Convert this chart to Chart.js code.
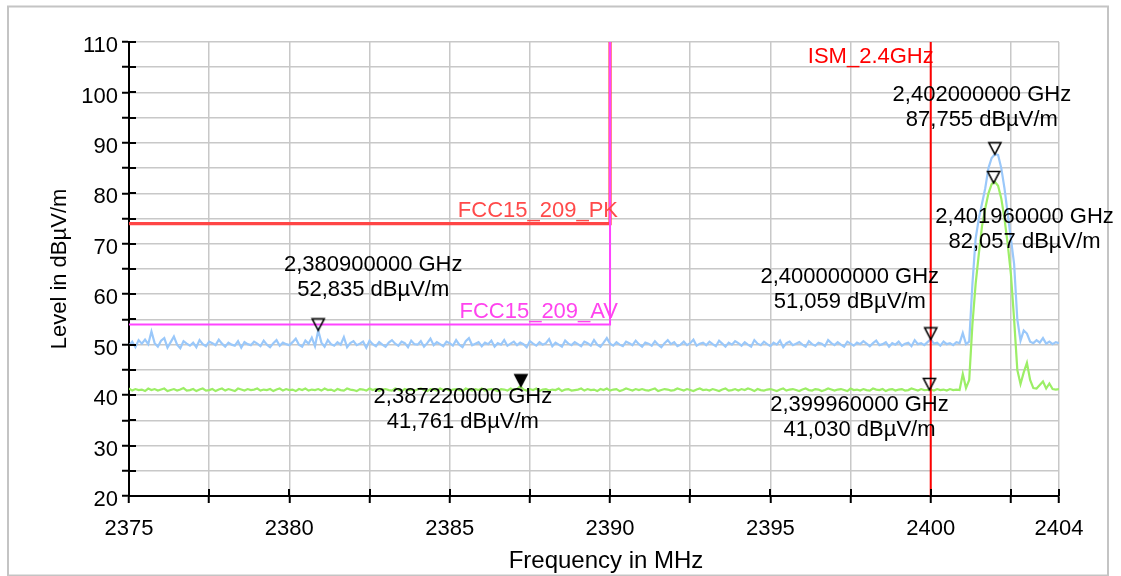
<!DOCTYPE html>
<html><head><meta charset="utf-8">
<script src="https://cdn.jsdelivr.net/npm/chart.js@4.4.0/dist/chart.umd.min.js"></script>
<style>html,body{margin:0;padding:0;background:#fff;overflow:hidden}#wrap{width:1121px;height:576px;position:relative}</style>
</head><body><div id="wrap"><canvas id="c" width="1121" height="576"></canvas></div>
<script>
// ---- sweep description ----
const sweepStart = 2375;      // MHz
const sweepStep = 0.1;        // MHz

// ---- peak detector trace (dBuV/m), one value per 0.1 MHz, 2375.0 .. 2404.0 ----
const peakTrace = [
  49.8, 50.6, 49.5, 50.9, 50.2, 51.0, 50.1, 52.6, 50.3, 49.6,
  50.8, 51.3, 49.4, 50.5, 51.6, 50.0, 49.3, 50.7, 50.2, 49.8,
  50.4, 49.5, 50.9, 50.1, 49.7, 50.6, 50.3, 49.9, 51.0, 50.2,
  49.6, 50.4, 50.0, 49.8, 50.7, 49.4, 50.5, 50.1, 49.9, 50.6,
  50.2, 49.7, 50.8, 50.0, 49.5, 50.3, 50.9, 49.8, 50.4, 50.1,
  49.9, 50.5, 51.2, 50.0, 49.6, 50.8, 50.2, 51.4, 49.7, 52.84,
  50.4, 49.6, 50.9, 50.1, 49.8, 50.5, 50.0, 51.5, 49.5, 50.3,
  50.7, 49.9, 50.2, 50.6, 49.4, 50.8, 50.1, 49.7, 50.5, 50.0,
  49.6, 50.4, 50.9, 50.2, 49.8, 50.6, 50.3, 49.5, 50.8, 50.1,
  50.0, 50.7, 49.6, 50.3, 51.2, 49.9, 50.5, 50.1, 49.7, 50.6,
  50.3, 49.8, 50.9, 50.0, 49.5, 50.7, 51.3, 49.9, 50.2, 50.5,
  49.7, 50.4, 50.1, 50.8, 49.6, 50.3, 50.0, 50.9, 49.8, 50.2,
  50.6, 49.9, 50.4, 50.1, 49.5, 50.7, 50.2, 49.8, 50.5, 50.0,
  50.3, 51.1, 49.7, 50.4, 50.0, 49.6, 50.8, 50.2, 49.9, 50.5,
  50.1, 49.7, 50.6, 50.3, 49.8, 50.9, 50.0, 49.6, 50.4, 51.3,
  50.2, 49.8, 50.5, 50.0, 49.7, 50.6, 50.3, 49.9, 50.8, 50.1,
  49.6, 50.4, 50.2, 49.8, 50.7, 50.0, 49.5, 50.3, 50.9, 50.1,
  50.5, 49.7, 50.0, 50.6, 49.9, 50.3, 51.0, 49.8, 50.2, 50.4,
  49.9, 50.6, 50.1, 49.7, 50.8, 50.2, 49.6, 50.4, 50.0, 50.7,
  50.3, 49.8, 50.5, 50.0, 49.6, 50.9, 50.2, 49.9, 50.6, 50.1,
  49.7, 50.4, 50.0, 50.8, 49.5, 50.3, 50.6, 49.9, 50.2, 50.5,
  50.0, 49.6, 50.7, 50.1, 49.8, 50.4, 50.2, 49.7, 50.9, 50.3,
  49.9, 50.5, 50.0, 49.6, 50.6, 50.2, 49.8, 50.4, 50.1, 50.7,
  50.2, 49.7, 50.3, 50.8, 49.9, 50.1, 50.5, 49.6, 50.3, 50.0,
  50.6, 49.8, 50.2, 50.4, 49.7, 50.9, 50.1, 50.3, 49.9, 50.5,
  51.06, 50.2, 50.4, 49.8, 50.6, 50.1, 50.3, 49.9, 50.5, 50.3,
  52.3, 50.1, 50.6, 62.0, 71.0, 75.0, 78.0, 81.0, 85.0, 87.0,
  87.76, 87.6, 85.0, 81.0, 76.0, 71.0, 66.0, 55.0, 50.8, 52.8,
  52.2, 50.6, 50.3, 50.9, 50.4, 51.3, 50.2, 50.6, 50.1, 50.5,
  50.3
];

// ---- average detector trace (dBuV/m), same frequency grid ----
const avgTrace = [
  41.3, 40.9, 41.2, 41.0, 41.1, 40.8, 41.3, 41.0, 41.2, 40.9,
  41.1, 41.3, 40.8, 41.0, 41.2, 40.9, 41.1, 41.4, 40.9, 41.0,
  41.2, 40.8, 41.1, 41.3, 40.9, 41.0, 41.2, 40.8, 41.1, 41.3,
  40.9, 41.2, 41.0, 40.8, 41.3, 41.1, 40.9, 41.2, 41.0, 41.1,
  41.3, 40.9, 41.1, 41.0, 41.2, 40.8, 41.1, 41.3, 40.9, 41.2,
  41.0, 41.1, 40.8, 41.2, 41.0, 41.3, 40.9, 41.1, 41.0, 41.2,
  40.9, 41.3, 41.0, 41.1, 40.8, 41.2, 41.0, 40.9, 41.3, 41.1,
  41.0, 40.8, 41.2, 41.1, 40.9, 41.3, 41.0, 41.2, 40.8, 41.1,
  41.2, 41.0, 40.9, 41.3, 41.1, 40.8, 41.2, 41.0, 41.1, 40.9,
  41.1, 41.3, 41.0, 40.8, 41.2, 41.1, 40.9, 41.3, 41.0, 41.2,
  40.9, 41.1, 41.2, 41.0, 40.8, 41.3, 41.1, 40.9, 41.2, 41.0,
  41.3, 40.9, 41.1, 41.2, 41.0, 40.8, 41.2, 41.1, 40.9, 41.3,
  41.0, 41.2, 41.76, 41.1, 40.9, 41.2, 41.0, 41.3, 40.8, 41.1,
  41.2, 40.9, 41.1, 41.0, 41.3, 40.8, 41.1, 41.2, 40.9, 41.0,
  41.1, 41.3, 40.9, 41.2, 41.0, 41.1, 40.8, 41.2, 41.0, 41.3,
  40.9, 41.1, 41.2, 40.8, 41.0, 41.3, 41.1, 40.9, 41.2, 41.0,
  41.2, 41.0, 40.9, 41.1, 41.3, 40.8, 41.0, 41.2, 41.1, 40.9,
  41.0, 41.3, 41.1, 40.9, 41.2, 41.0, 40.8, 41.1, 41.3, 41.0,
  41.1, 40.9, 41.2, 41.0, 40.8, 41.1, 41.3, 40.9, 41.0, 41.2,
  40.9, 41.2, 41.0, 41.3, 41.1, 40.8, 41.2, 41.0, 40.9, 41.1,
  41.2, 41.0, 40.8, 41.1, 41.3, 40.9, 41.1, 41.2, 41.0, 40.8,
  41.1, 41.3, 41.0, 40.9, 41.2, 41.1, 40.8, 41.0, 41.3, 41.1,
  40.9, 41.1, 41.2, 41.0, 40.8, 41.3, 41.0, 41.1, 40.9, 41.2,
  41.0, 40.9, 41.3, 41.1, 41.0, 41.2, 40.8, 41.1, 41.2, 40.9,
  41.1, 41.2, 40.9, 41.0, 41.3, 41.1, 40.9, 41.2, 41.0, 41.03,
  41.1, 40.9, 41.2, 41.0, 41.1, 40.9, 41.2, 41.0, 41.1, 41.0,
  44.2, 41.4, 43.0, 54.0, 62.0, 68.0, 73.5, 77.0, 80.0, 81.8,
  82.3, 81.5, 79.0, 75.0, 70.0, 64.0, 55.0, 45.0, 42.2, 44.5,
  46.4, 43.0, 41.4, 41.3, 42.0, 42.7, 41.3, 42.3, 41.2, 41.1,
  41.2
];

// ---- limit lines ----
const pkLimitFreq  = [2375, 2390, 2390];
const pkLimitLevel = [74, 74, 110];
const avLimitFreq  = [2375, 2390, 2390];
const avLimitLevel = [54, 54, 110];
const ismFreq  = [2400, 2400];
const ismLevel = [20, 110];
const limitNames = ['FCC15_209_PK', 'FCC15_209_AV', 'ISM_2.4GHz'];

// ---- markers ----
const markerFreq  = [2380.90, 2387.22, 2400.00, 2399.96, 2402.00, 2401.96];
const markerLevel = [52.835, 41.761, 51.059, 41.030, 87.755, 82.057];
const markerFilled = [false, true, false, false, false, false];

// ---- axes ----
const xTickValues  = [2375, 2377.5, 2380, 2382.5, 2385, 2387.5, 2390, 2392.5, 2395, 2397.5, 2400, 2402.5, 2404];
const xTickLabels  = [2375, 2380, 2385, 2390, 2395, 2400, 2404];
const yTickValues  = [20, 25, 30, 35, 40, 45, 50, 55, 60, 65, 70, 75, 80, 85, 90, 95, 100, 105, 110];
const yTickLabels  = [20, 30, 40, 50, 60, 70, 80, 90, 100, 110];
const xTitle = 'Frequency in MHz';
const yTitle = 'Level in dBµV/m';

// ---------------------------------------------------------------------------
const FONT = '"Liberation Sans", Arial, Helvetica, sans-serif';
const fmt = (v, d) => v.toFixed(d).replace('.', ',');

function pts(xs, ys) { return xs.map((x, i) => ({ x: x, y: ys[i] })); }
function tracePts(vals) {
  return vals.map((v, i) => ({ x: Math.round((sweepStart + i * sweepStep) * 1000) / 1000, y: v }));
}

function triCanvas(filled) {
  const c = document.createElement('canvas');
  c.width = 16; c.height = 26;
  const g = c.getContext('2d');
  g.beginPath();
  g.moveTo(2, 1.5); g.lineTo(14, 1.5); g.lineTo(8, 13); g.closePath();
  g.lineWidth = 1.6; g.strokeStyle = '#000'; g.lineJoin = 'miter';
  if (filled) { g.fillStyle = '#000'; g.fill(); }
  g.stroke();
  return c;
}
const openTri = triCanvas(false), fullTri = triCanvas(true);

// label placement relative to each marker tip (dx, baseline dy of first line)
const markerLabelOffsets = [[55, -59], [-58, 17], [-81, -56], [-70, 21], [-13, -53], [31, 40]];

const framePlugin = {
  id: 'frame',
  beforeDraw(chart) {
    const ctx = chart.ctx;
    ctx.save();
    ctx.fillStyle = '#fff';
    ctx.fillRect(0, 0, chart.width, chart.height);
    ctx.strokeStyle = '#c4c4c4';
    ctx.lineWidth = 2;
    ctx.strokeRect(8, 6.5, 1100, 569);
    ctx.restore();
  }
};

const decorPlugin = {
  id: 'decor',
  afterDatasetsDraw(chart) {
    const ctx = chart.ctx, xs = chart.scales.x, ys = chart.scales.y, a = chart.chartArea;
    ctx.save();
    // inward halves of tick marks
    ctx.strokeStyle = '#000'; ctx.lineWidth = 2;
    xTickValues.forEach(v => {
      const p = Math.round(xs.getPixelForValue(v));
      ctx.beginPath(); ctx.moveTo(p, a.bottom); ctx.lineTo(p, a.bottom - 7); ctx.stroke();
    });
    yTickValues.forEach(v => {
      const p = Math.round(ys.getPixelForValue(v));
      ctx.beginPath(); ctx.moveTo(a.left, p); ctx.lineTo(a.left + 7, p); ctx.stroke();
    });
    // x axis title (slightly right of the plot centre, as in the source)
    ctx.fillStyle = '#000';
    ctx.font = '24px ' + FONT;
    ctx.textAlign = 'center';
    ctx.textBaseline = 'middle';
    ctx.fillText(xTitle, (a.left + a.right) / 2 + 12, chart.height - 14.5);
    // limit line names
    ctx.font = '22px ' + FONT;
    ctx.textBaseline = 'alphabetic';
    ctx.textAlign = 'right';
    ctx.fillStyle = '#ff4a4a';
    ctx.fillText(limitNames[0], xs.getPixelForValue(pkLimitFreq[1]) + 8, ys.getPixelForValue(pkLimitLevel[0]) - 7);
    ctx.fillStyle = '#ff44ee';
    ctx.fillText(limitNames[1], xs.getPixelForValue(avLimitFreq[1]) + 8, ys.getPixelForValue(avLimitLevel[0]) - 6);
    ctx.fillStyle = '#ff0000';
    ctx.fillText(limitNames[2], xs.getPixelForValue(ismFreq[0]) + 3, ys.getPixelForValue(ismLevel[1]) + 21);
    // marker labels
    const meta = chart.getDatasetMeta(chart.data.datasets.findIndex(d => d.label === 'markers'));
    ctx.fillStyle = '#000';
    ctx.textAlign = 'center';
    meta.data.forEach((pt, i) => {
      const [dx, dy] = markerLabelOffsets[i];
      ctx.fillText(fmt(markerFreq[i] / 1000, 9) + ' GHz', pt.x + dx, pt.y + dy);
      ctx.fillText(fmt(markerLevel[i], 3) + ' dBµV/m', pt.x + dx, pt.y + dy + 25);
    });
    ctx.restore();
  }
};

new Chart(document.getElementById('c'), {
  type: 'line',
  data: {
    datasets: [
      { label: 'markers', data: pts(markerFreq, markerLevel), showLine: false,
        pointStyle: markerFilled.map(f => f ? fullTri : openTri), pointRadius: 6, order: 0 },
      { label: 'ISM', data: pts(ismFreq, ismLevel), borderColor: '#ff0000', borderWidth: 2, pointRadius: 0, order: 1 },
      { label: 'AV', data: pts(avLimitFreq, avLimitLevel), borderColor: '#ff44ff', borderWidth: 2, pointRadius: 0, order: 2 },
      { label: 'PK', data: pts(pkLimitFreq, pkLimitLevel), borderColor: '#ff4545', borderWidth: 3.2, pointRadius: 0, order: 3 },
      { label: 'AVG', data: tracePts(avgTrace), borderColor: '#9cee66', borderWidth: 2.2, pointRadius: 0, order: 4 },
      { label: 'PEAK', data: tracePts(peakTrace), borderColor: '#9ac8fa', borderWidth: 2.2, pointRadius: 0, order: 5 }
    ]
  },
  options: {
    responsive: false, animation: false, devicePixelRatio: 1,
    layout: { padding: { left: 0, right: 62, top: 42, bottom: 0 } },
    plugins: { legend: { display: false }, tooltip: { enabled: false } },
    elements: { line: { tension: 0 } },
    scales: {
      x: {
        type: 'linear', min: 2375, max: 2404,
        afterBuildTicks: s => { s.ticks = xTickValues.map(v => ({ value: v })); },
        afterFit: s => { s.height = 80; },
        ticks: { autoSkip: false, maxRotation: 0, padding: 13, color: '#000', font: { family: FONT, size: 22 },
                 callback: v => xTickLabels.includes(v) ? String(v) : '' },
        grid: { color: '#c8c8c8', lineWidth: 1.5, drawTicks: true, tickLength: 7, tickColor: '#000', tickWidth: 2 },
        border: { display: true, color: '#000', width: 2 },
        title: { display: false }
      },
      y: {
        type: 'linear', min: 20, max: 110,
        afterBuildTicks: s => { s.ticks = yTickValues.map(v => ({ value: v })); },
        afterFit: s => { s.width = 129; },
        ticks: { autoSkip: false, padding: 4, labelOffset: 4, color: '#000', font: { family: FONT, size: 22 },
                 callback: v => yTickLabels.includes(v) ? String(v) : '' },
        grid: { color: '#c8c8c8', lineWidth: 1.5, drawTicks: true, tickLength: 7, tickColor: '#000', tickWidth: 2 },
        border: { display: true, color: '#000', width: 2 },
        title: { display: true, text: yTitle, color: '#000', font: { family: FONT, size: 22 }, padding: { top: 47, bottom: 0 } }
      }
    }
  },
  plugins: [framePlugin, decorPlugin]
});
</script></body></html>
